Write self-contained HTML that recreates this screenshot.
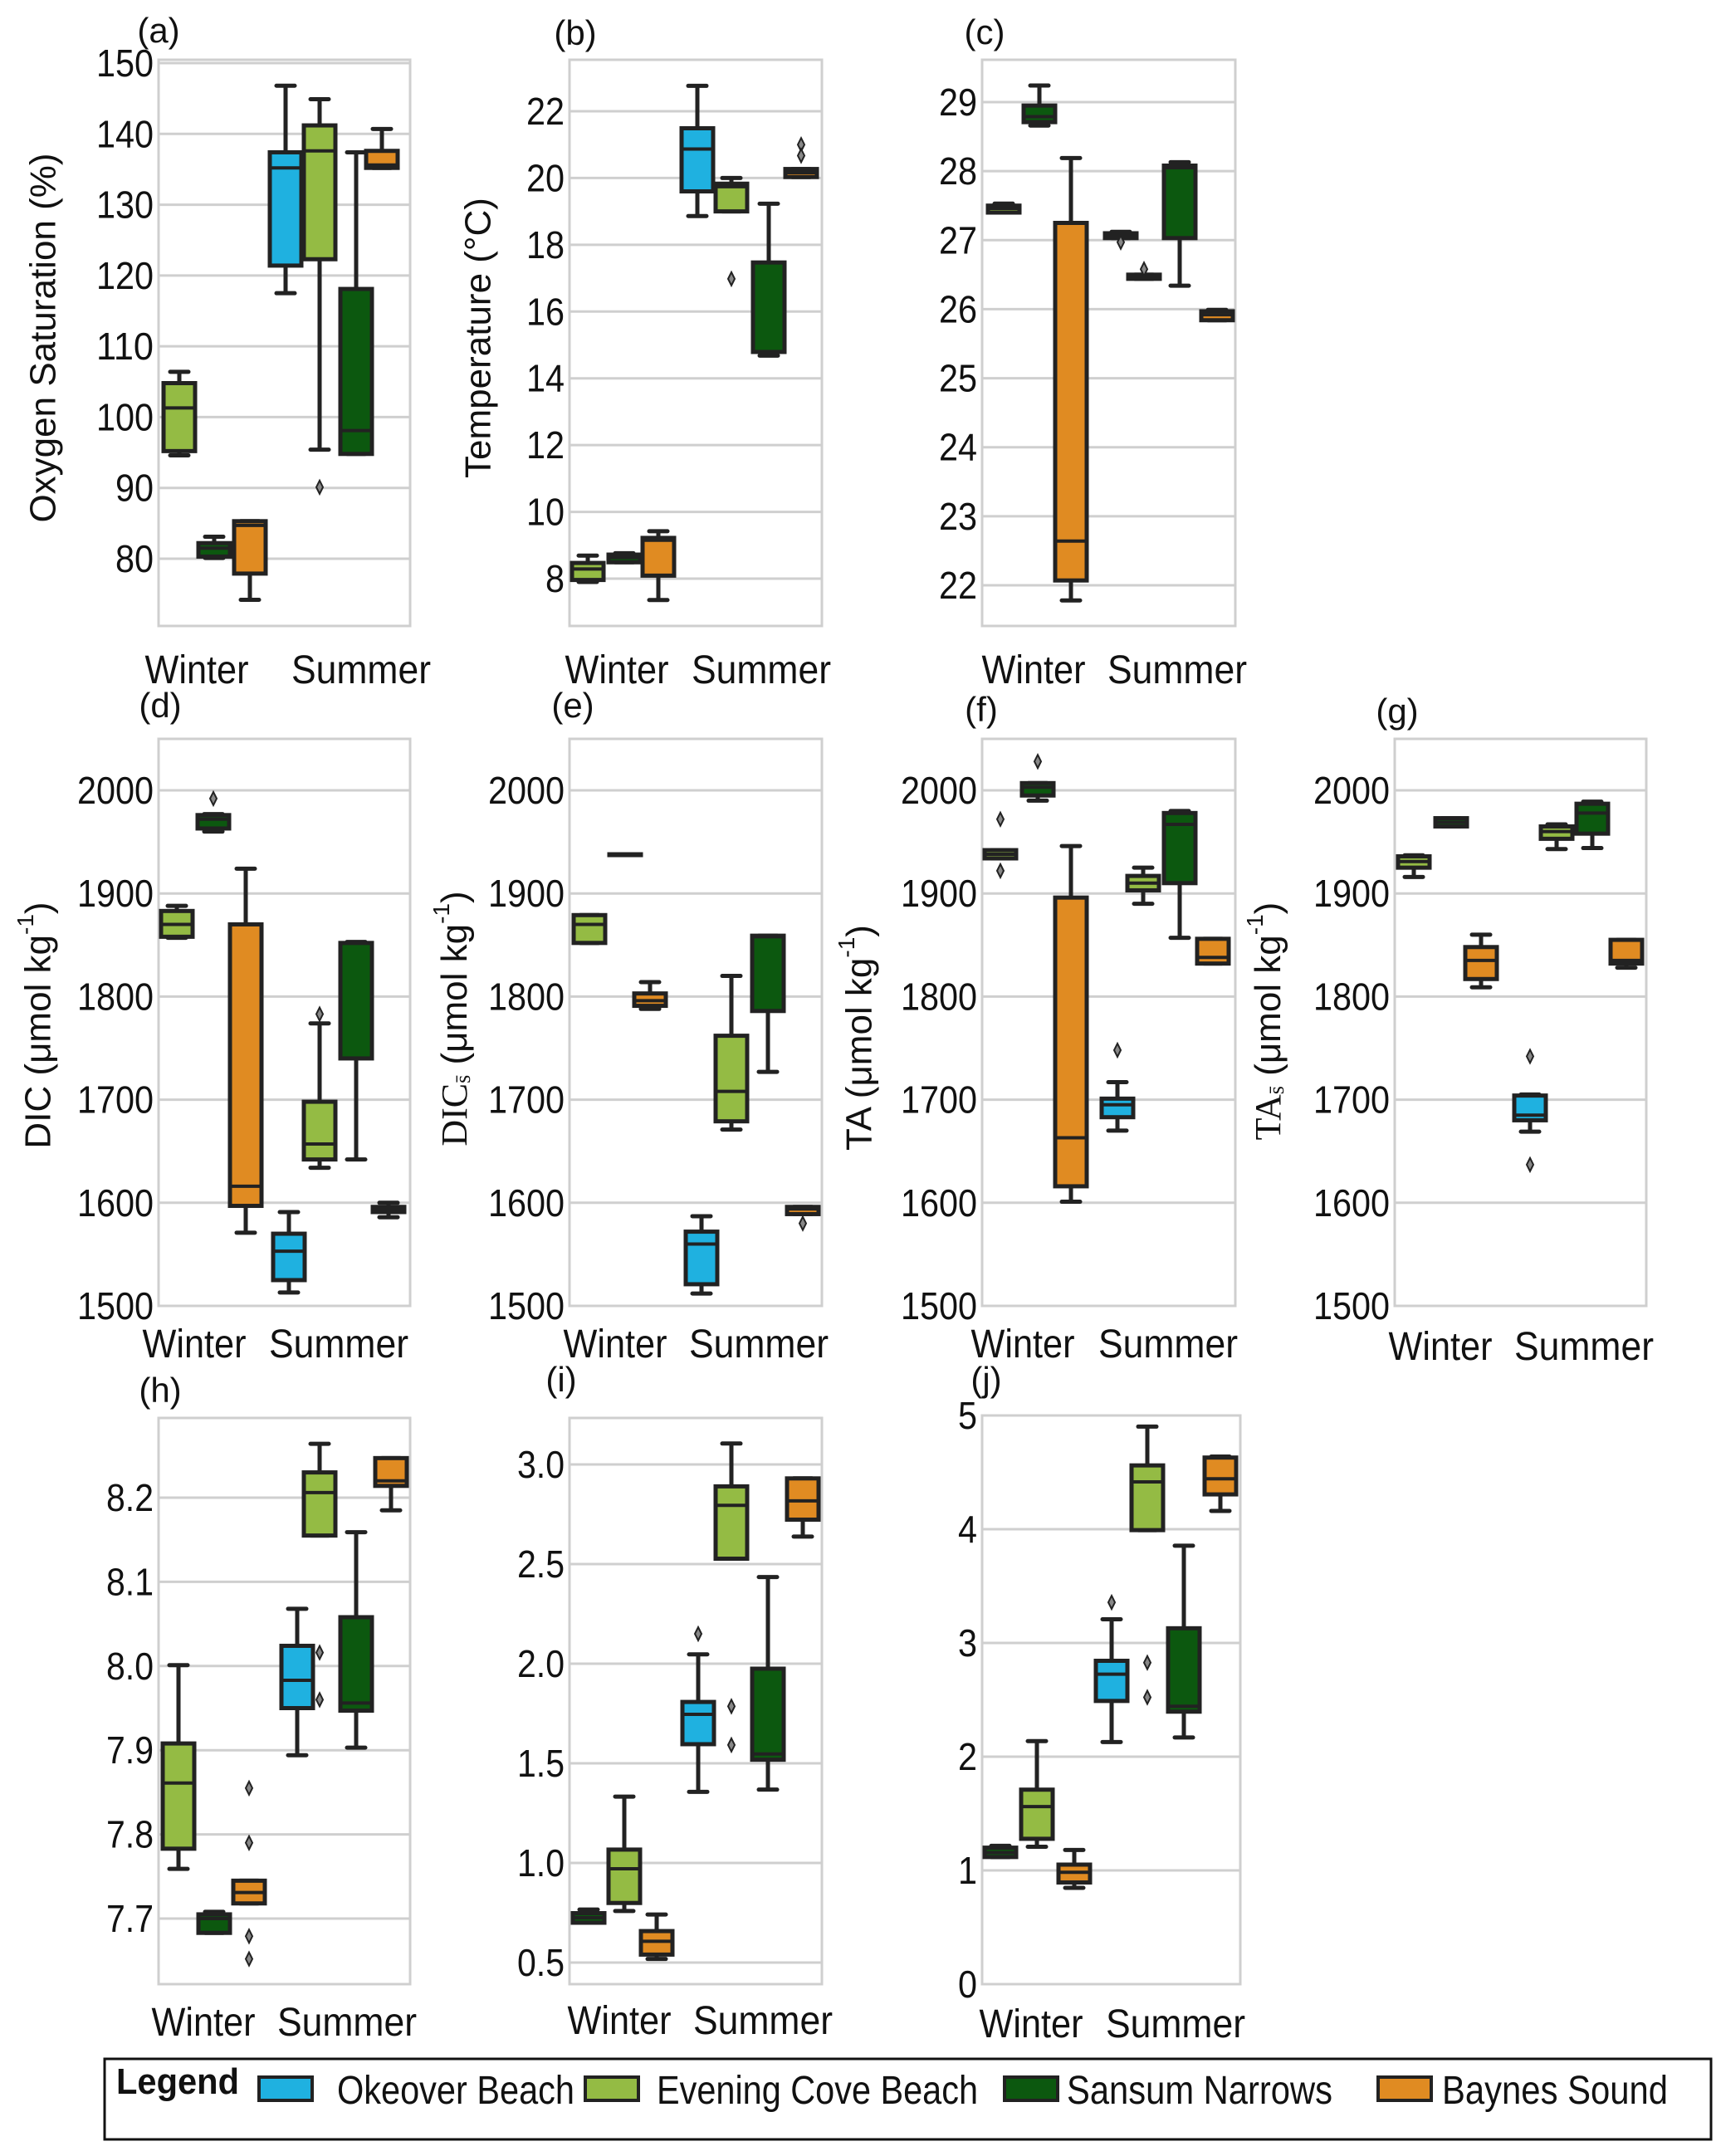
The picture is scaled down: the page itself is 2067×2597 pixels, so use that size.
<!DOCTYPE html>
<html><head><meta charset="utf-8"><style>
html,body{margin:0;padding:0;background:#fff;}
svg{display:block;font-family:"Liberation Sans",sans-serif;}
</style></head><body>
<svg id="fig" width="2067" height="2597" viewBox="0 0 2067 2597" xmlns="http://www.w3.org/2000/svg"></svg>
<script>
// hue index: 0 Okeover Beach, 1 Evening Cove Beach, 2 Sansum Narrows, 3 Baynes Sound
const hueColors=["#1fb1e0","#94bb44","#0c580f","#e08b22"];
const hueNames=["Okeover Beach","Evening Cove Beach","Sansum Narrows","Baynes Sound"];
const seasonLabels=["Winter","Summer"];

// (a) oxygen saturation
const a_hue=[1,2,3,0,1,2,3];
const a_lo=[94.6,80.1,74.2,117.5,95.4,94.8,135.2];
const a_q1=[95.2,80.3,77.9,121.4,122.3,94.8,135.2];
const a_med=[101.3,81.5,84.7,135.2,137.6,98.1,135.6];
const a_q3=[104.8,82.2,85.3,137.4,141.2,118.1,137.6];
const a_hi=[106.4,83.1,85.3,146.8,144.9,137.4,140.7];
const a_out=[[],[],[],[],[90.1],[],[]];
// (b) temperature
const b_hue=[1,2,3,0,1,2,3];
const b_lo=[7.9,8.49,7.36,18.86,19.0,14.68,20.03];
const b_q1=[7.96,8.49,8.09,19.6,19.0,14.79,20.03];
const b_med=[8.29,8.63,9.15,20.87,19.74,14.8,20.16];
const b_q3=[8.47,8.72,9.22,21.49,19.83,17.47,20.27];
const b_hi=[8.69,8.76,9.42,22.76,20.0,19.23,20.27];
const b_out=[[],[],[],[],[16.98],[],[21.0,20.67]];
// (c) salinity
const c_hue=[1,2,3,0,1,2,3];
const c_lo=[27.4,28.66,21.78,27.03,26.44,26.34,25.84];
const c_q1=[27.4,28.71,22.07,27.03,26.44,27.03,25.84];
const c_med=[27.46,28.79,22.64,27.07,26.47,28.05,25.92];
const c_q3=[27.5,28.95,27.25,27.1,26.5,28.08,25.97];
const c_hi=[27.53,29.24,28.19,27.12,26.5,28.13,25.99];
const c_out=[[],[],[],[26.97],[26.58],[],[]];
// (d) DIC
const d_hue=[1,2,3,0,1,2,3];
const d_lo=[1857,1960,1571,1513,1634,1642,1586];
const d_q1=[1858,1963,1597,1525,1642,1740,1591];
const d_med=[1870,1972,1616,1553,1657,1852,1594];
const d_q3=[1883,1976,1870,1570,1698,1852,1596];
const d_hi=[1888,1977,1924,1591,1774,1853,1600];
const d_out=[[],[1992],[],[],[1783],[],[]];
// (e) normalised DIC
const e_hue=[1,2,3,0,1,2,3];
const e_lo=[1852,1938,1788,1512,1671,1727,1589];
const e_q1=[1852,1938,1791,1521,1679,1786,1589];
const e_med=[1870,1938,1796,1560,1708,1858,1594];
const e_q3=[1879,1938,1803,1572,1762,1859,1596];
const e_hi=[1879,1938,1814,1587,1820,1859,1596];
const e_out=[[],[],[],[],[],[],[1580]];
// (f) TA
const f_hue=[1,2,3,0,1,2,3];
const f_lo=[1934,1990,1601,1670,1890,1857,1832];
const f_q1=[1934,1995,1616,1683,1903,1910,1832];
const f_med=[1938,2003,1663,1695,1910,1967,1838];
const f_q3=[1942,2007,1896,1701,1917,1978,1856];
const f_hi=[1942,2007,1946,1717,1925,1980,1856];
const f_out=[[1972,1922],[2028],[],[1748],[],[],[]];
// (g) normalised TA
const g_hue=[1,2,3,0,1,2,3];
const g_lo=[1916,1965,1809,1669,1943,1944,1828];
const g_q1=[1925,1965,1817,1680,1953,1958,1832];
const g_med=[1931,1969,1835,1685,1960,1978,1835];
const g_q3=[1936,1973,1848,1704,1965,1987,1855];
const g_hi=[1937,1973,1860,1705,1967,1989,1855];
const g_out=[[],[],[],[1742,1637],[],[],[]];
// (h) pH
const h_hue=[1,2,3,0,1,2,3];
const h_lo=[7.759,7.683,7.718,7.894,8.155,7.903,8.185];
const h_q1=[7.783,7.683,7.718,7.95,8.155,7.947,8.214];
const h_med=[7.861,7.7,7.731,7.983,8.206,7.956,8.22];
const h_q3=[7.908,7.705,7.745,8.024,8.23,8.058,8.247];
const h_hi=[8.001,7.708,7.745,8.068,8.264,8.159,8.247];
const h_out=[[],[],[7.855,7.79,7.679,7.652],[],[8.016,7.96],[],[]];
// (i)
const i_hue=[2,1,3,0,1,2,3];
const i_lo=[0.7,0.759,0.518,1.357,2.527,1.368,2.638];
const i_q1=[0.7,0.799,0.54,1.596,2.527,1.518,2.723];
const i_med=[0.725,0.971,0.607,1.746,2.795,1.547,2.817];
const i_q3=[0.748,1.067,0.658,1.808,2.89,1.975,2.93];
const i_hi=[0.766,1.333,0.741,2.047,3.105,2.435,2.93];
const i_out=[[],[],[],[2.15],[1.786,1.592],[],[]];
// (j)
const j_hue=[2,1,3,0,1,2,3];
const j_lo=[1.118,1.208,0.847,2.129,3.992,2.169,4.161];
const j_q1=[1.118,1.278,0.894,2.49,3.992,2.396,4.306];
const j_med=[1.157,1.561,0.984,2.725,4.416,2.443,4.443];
const j_q3=[1.2,1.71,1.051,2.843,4.561,3.129,4.63];
const j_hi=[1.216,2.137,1.18,3.208,4.902,3.855,4.639];
const j_out=[[],[],[],[3.357],[2.827,2.522],[],[]];

const aTicks=[80,90,100,110,120,130,140,150];
const bTicks=[8,10,12,14,16,18,20,22];
const cTicks=[22,23,24,25,26,27,28,29];
const carbTicks=[1500,1600,1700,1800,1900,2000];
const hTicks=[7.7,7.8,7.9,8.0,8.1,8.2];
const iTicks=[0.5,1.0,1.5,2.0,2.5,3.0];
const jTicks=[0,1,2,3,4,5];

const NS="http://www.w3.org/2000/svg";
const svg=document.getElementById('fig');
function mk(tag,attrs,parent){const e=document.createElementNS(NS,tag);for(const k in attrs)e.setAttribute(k,attrs[k]);(parent||svg).appendChild(e);return e;}

// layout (pixels)
const panels=[
 {id:"a",x0:191,x1:494,y0:72,y1:754,vA:150,pA:76,vB:80,pB:673,ticks:aTicks,dec:0,slots:[25,67,110,153,194,238,269],data:[a_hue,a_lo,a_q1,a_med,a_q3,a_hi,a_out],lx:191,ly:37,wx:237,sx:435,xy:806},
 {id:"b",x0:686,x1:990,y0:72,y1:754,vA:22,pA:134,vB:8,pB:697,ticks:bTicks,dec:0,slots:[22,66,107,154,195,240,279],data:[b_hue,b_lo,b_q1,b_med,b_q3,b_hi,b_out],lx:693,ly:40,wx:743,sx:917,xy:806},
 {id:"c",x0:1183,x1:1488,y0:72,y1:754,vA:29,pA:123,vB:22,pB:705,ticks:cTicks,dec:0,slots:[26,69,107,167,195,238,283],data:[c_hue,c_lo,c_q1,c_med,c_q3,c_hi,c_out],lx:1186,ly:39,wx:1245,sx:1418,xy:806},
 {id:"d",x0:191,x1:494,y0:890,y1:1573,vA:2000,pA:952,vB:1500,pB:1573,ticks:carbTicks,dec:0,slots:[22,66,105,157,194,238,277],data:[d_hue,d_lo,d_q1,d_med,d_q3,d_hi,d_out],lx:193,ly:850,wx:234,sx:408,xy:1618},
 {id:"e",x0:686,x1:990,y0:890,y1:1573,vA:2000,pA:952,vB:1500,pB:1573,ticks:carbTicks,dec:0,slots:[24,67,97,159,195,239,281],data:[e_hue,e_lo,e_q1,e_med,e_q3,e_hi,e_out],lx:690,ly:850,wx:741,sx:914,xy:1618},
 {id:"f",x0:1183,x1:1488,y0:890,y1:1573,vA:2000,pA:952,vB:1500,pB:1573,ticks:carbTicks,dec:0,slots:[22,67,107,163,194,238,278],data:[f_hue,f_lo,f_q1,f_med,f_q3,f_hi,f_out],lx:1182,ly:855,wx:1232,sx:1407,xy:1618},
 {id:"g",x0:1680,x1:1983,y0:890,y1:1573,vA:2000,pA:952,vB:1500,pB:1573,ticks:carbTicks,dec:0,slots:[23,68,104,163,195,238,279],data:[g_hue,g_lo,g_q1,g_med,g_q3,g_hi,g_out],lx:1683,ly:857,wx:1735,sx:1908,xy:1621},
 {id:"h",x0:191,x1:494,y0:1708,y1:2390,vA:8.2,pA:1804,vB:7.7,pB:2311,ticks:hTicks,dec:1,slots:[24,67,109,167,194,238,280],data:[h_hue,h_lo,h_q1,h_med,h_q3,h_hi,h_out],lx:193,ly:1675,wx:245,sx:418,xy:2435},
 {id:"i",x0:686,x1:990,y0:1708,y1:2390,vA:3.0,pA:1764,vB:0.5,pB:2364,ticks:iTicks,dec:1,slots:[23,66,105,155,195,239,281],data:[i_hue,i_lo,i_q1,i_med,i_q3,i_hi,i_out],lx:676,ly:1662,wx:746,sx:919,xy:2433},
 {id:"j",x0:1183,x1:1494,y0:1705,y1:2390,vA:5,pA:1705,vB:0,pB:2390,ticks:jTicks,dec:0,slots:[22,66,111,156,199,243,287],data:[j_hue,j_lo,j_q1,j_med,j_q3,j_hi,j_out],lx:1188,ly:1662,wx:1242,sx:1416,xy:2437}
];
const seasonW=[125,168];

panels.forEach(p=>{
  const g=mk('g',{});
  
  
  const yScale=v=>p.pA+(v-p.vA)*(p.pB-p.pA)/(p.vB-p.vA);
  p.ticks.forEach(t=>{
    const y=yScale(t);
    const gl=mk('line',{x1:p.x0,x2:p.x1,y1:y,y2:y,stroke:"#cfcfcf","stroke-width":3},g);
    
    
    const s=t.toFixed(p.dec);
    let w=0;for(const ch of s)w+=(ch==='.'?11:23);
    const tl=mk('text',{x:p.x0-6,y:y+16,"text-anchor":"end","font-size":46,fill:"#111",textLength:w,lengthAdjust:"spacingAndGlyphs"},g);
    
    
    tl.textContent=s;
  });
  const fr=mk('rect',{x:p.x0,y:p.y0,width:p.x1-p.x0,height:p.y1-p.y0,fill:"none",stroke:"#cfcfcf","stroke-width":3},g);
  
  
  const [hue,lo,q1,med,q3,hi,out]=p.data;
  hue.forEach((h,k)=>{
    const cx=p.x0+p.slots[k];
    const bg=mk('g',{},g);
    
    
    const yl=yScale(lo[k]),y1=yScale(q1[k]),ym=yScale(med[k]),y3=yScale(q3[k]),yh=yScale(hi[k]);
    mk('line',{x1:cx,x2:cx,y1:yh,y2:y3,stroke:"#222","stroke-width":5},bg);
    mk('line',{x1:cx,x2:cx,y1:y1,y2:yl,stroke:"#222","stroke-width":5},bg);
    mk('line',{x1:cx-11,x2:cx+11,y1:yh,y2:yh,stroke:"#222","stroke-width":5,"stroke-linecap":"round"},bg);
    mk('line',{x1:cx-11,x2:cx+11,y1:yl,y2:yl,stroke:"#222","stroke-width":5,"stroke-linecap":"round"},bg);
    mk('rect',{x:cx-19,y:y3,width:38,height:Math.max(y1-y3,1),fill:hueColors[h],stroke:"#222","stroke-width":5},bg);
    mk('line',{x1:cx-19,x2:cx+19,y1:ym,y2:ym,stroke:"#222","stroke-width":4},bg);
    out[k].forEach(v=>{
      const oy=yScale(v);
      const o=mk('path',{d:`M${cx} ${oy-8}L${cx+4} ${oy}L${cx} ${oy+8}L${cx-4} ${oy}Z`,fill:"#888",stroke:"#222","stroke-width":2},bg);
      
      
    });
  });
  const pl=mk('text',{x:p.lx,y:p.ly+14,"text-anchor":"middle","font-size":42,fill:"#111"},g);
  
  
  pl.textContent='('+p.id+')';
  [p.wx,p.sx].forEach((x,s)=>{
    const xl=mk('text',{x:x,y:p.xy+17,"text-anchor":"middle","font-size":48,fill:"#111",textLength:seasonW[s],lengthAdjust:"spacingAndGlyphs"},g);
    
    
    xl.textContent=seasonLabels[s];
  });
});

// axis titles
const titles=[
 {x:52,y:407,html:'Oxygen Saturation (%)',name:'y-axis-title-oxygen'},
 {x:576,y:407,html:'Temperature (°C)',name:'y-axis-title-temperature'},
 {x:46,y:1235,html:'DIC (μmol kg<tspan dy="-16" font-size="28">-1</tspan><tspan dy="16">)</tspan>',name:'y-axis-title-dic'},
 {x:547,y:1227,html:'<tspan font-family="Liberation Serif, serif">DIC</tspan><tspan font-family="Liberation Serif, serif" font-size="26" dy="10">s̄</tspan><tspan dy="-10"> (μmol kg</tspan><tspan dy="-16" font-size="28">-1</tspan><tspan dy="16">)</tspan>',name:'y-axis-title-dic-normalised'},
 {x:1035,y:1250,html:'TA (μmol kg<tspan dy="-16" font-size="28">-1</tspan><tspan dy="16">)</tspan>',name:'y-axis-title-ta'},
 {x:1527,y:1230,html:'<tspan font-family="Liberation Serif, serif">TA</tspan><tspan font-family="Liberation Serif, serif" font-size="26" dy="10">s̄</tspan><tspan dy="-10"> (μmol kg</tspan><tspan dy="-16" font-size="28">-1</tspan><tspan dy="16">)</tspan>',name:'y-axis-title-ta-normalised'}
];
titles.forEach(t=>{
  const e=mk('text',{transform:`translate(${t.x},${t.y}) rotate(-90)`,"text-anchor":"middle","dominant-baseline":"central","font-size":44,fill:"#111"});
  
  
  e.innerHTML=t.html;
});
// legend
const lg=mk('g',{});


mk('rect',{x:126,y:2480,width:1935,height:97,fill:"#fff",stroke:"#111","stroke-width":3},lg);
const lt=mk('text',{x:140,y:2522,"font-size":44,"font-weight":"bold",fill:"#111",textLength:148,lengthAdjust:"spacingAndGlyphs"},lg);


lt.textContent='Legend';
const legPatchX=[312,705,1210,1660];
const legTextX=[406,791,1285,1737];
const legTextW=[286,387,320,272];
hueNames.forEach((n,k)=>{
  const eg=mk('g',{},lg);
  
  
  mk('rect',{x:legPatchX[k],y:2502,width:64,height:28,fill:hueColors[k],stroke:"#222","stroke-width":4},eg);
  const tx=mk('text',{x:legTextX[k],y:2534,"font-size":48,fill:"#111",textLength:legTextW[k],lengthAdjust:"spacingAndGlyphs"},eg);
  tx.textContent=n;
});
</script>
</body></html>
